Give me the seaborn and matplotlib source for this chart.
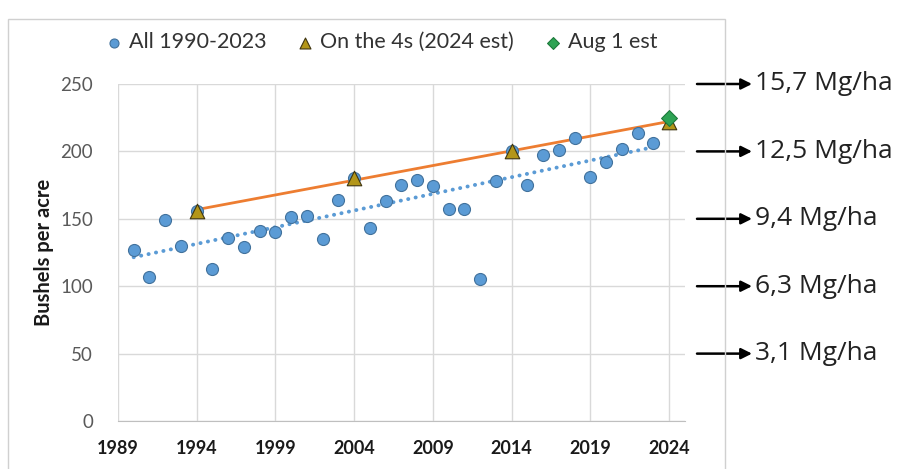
import matplotlib
matplotlib.use("Agg")
import matplotlib.pyplot as plt
from matplotlib.patches import Rectangle
import seaborn as sns
import pandas as pd

# Data
years = list(range(1990, 2024))
yields = [127, 107, 149, 130, 156, 113, 136, 129, 141, 140,
          151, 152, 135, 164, 180, 143, 163, 175, 179, 174,
          157, 157, 105, 178, 200, 175, 197, 201, 210, 181,
          192, 202, 214, 206]
fours_years = [1994, 2004, 2014, 2024]
fours_yields = [156, 180, 200, 222]
aug_year = [2024]
aug_yield = [225]
mg_labels = ["15,7 Mg/ha", "12,5 Mg/ha", "9,4 Mg/ha", "6,3 Mg/ha", "3,1 Mg/ha"]
mg_levels = [250, 200, 150, 100, 50]

all_df = pd.DataFrame({"year": years, "yield": yields})
fours_df = pd.DataFrame({"year": fours_years, "yield": fours_yields})
aug_df = pd.DataFrame({"year": aug_year, "yield": aug_yield})

sns.set_style("white")
plt.rcParams["font.family"] = ["Lato", "DejaVu Sans"]

fig = plt.figure(figsize=(9.07, 4.69), dpi=100)
ax = fig.add_axes([0.130, 0.1023, 0.625, 0.7186])

# chart frame
fig.patches.append(Rectangle((8 / 907, -0.05), 717 / 907, 1.0 - 19 / 469 + 0.05,
                             transform=fig.transFigure, fill=False,
                             edgecolor="#D0D0D0", lw=1.0, zorder=0))

# trend lines
sns.regplot(data=all_df, x="year", y="yield", ax=ax, scatter=False, ci=None,
            line_kws=dict(color="#5B9BD5", lw=2.8, linestyle=(0, (0.05, 1.9)),
                          dash_capstyle="round", zorder=2))
sns.regplot(data=fours_df, x="year", y="yield", ax=ax, scatter=False, ci=None,
            line_kws=dict(color="#ED7D31", lw=2.0, zorder=3))

sns.scatterplot(data=all_df, x="year", y="yield", ax=ax, marker="o", s=75,
                color="#5B9BD5", edgecolor="#41719C", linewidth=0.8,
                label="All 1990-2023", zorder=4)
sns.scatterplot(data=fours_df, x="year", y="yield", ax=ax, marker="^", s=110,
                color="#B39619", edgecolor="#3F3510", linewidth=0.8,
                label="On the 4s (2024 est)", zorder=5)
sns.scatterplot(data=aug_df, x="year", y="yield", ax=ax, marker="D", s=65,
                color="#2EA354", edgecolor="#1E7A3C", linewidth=0.8,
                label="Aug 1 est", zorder=6)

ax.set_xlim(1989, 2025)
ax.set_ylim(0, 250)
ax.set_xticks(list(range(1989, 2025, 5)))
ax.set_yticks([0, 50, 100, 150, 200, 250])
ax.grid(True, color="#D9D9D9", lw=1.0)
ax.set_axisbelow(True)
for s in ["top", "right", "left"]:
    ax.spines[s].set_visible(False)
ax.spines["bottom"].set_color("#BFBFBF")
ax.tick_params(axis="x", length=0, pad=14, labelsize=13, labelcolor="#1A1A1A")
ax.tick_params(axis="y", length=0, pad=18, labelsize=13.5, labelcolor="#595959")
for lab in ax.get_xticklabels():
    lab.set_fontweight("bold")
ax.set_xlabel("")
ax.set_ylabel("Bushels per acre", fontsize=14.5, fontweight="bold", labelpad=4,
              color="#1A1A1A")

leg = ax.legend(loc="center left", bbox_to_anchor=(105 / 907, 0.91), bbox_transform=fig.transFigure,
                ncol=3, frameon=False, fontsize=15.5, handlelength=0.8, handletextpad=0.3,
                columnspacing=1.4, markerscale=0.75, borderpad=0, borderaxespad=0)
for t in leg.get_texts():
    t.set_color("#333333")

# right-hand unit annotations
for lvl, txt in zip(mg_levels, mg_labels):
    ax.annotate("", xy=(752 / 907, lvl), xytext=(697 / 907, lvl),
                xycoords=("figure fraction", "data"), textcoords=("figure fraction", "data"),
                arrowprops=dict(arrowstyle="-|>", color="black", lw=1.8,
                                mutation_scale=16, shrinkA=0, shrinkB=0),
                annotation_clip=False)
    ax.annotate(txt, xy=(755 / 907, lvl), xycoords=("figure fraction", "data"),
                va="center", ha="left", fontsize=19, color="#222222",
                family=["Open Sans", "DejaVu Sans"], annotation_clip=False)

fig.savefig("out.png", dpi=100)
